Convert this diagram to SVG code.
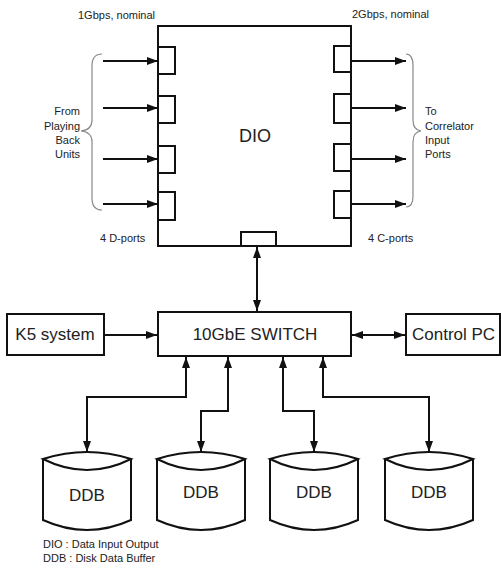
<svg xmlns="http://www.w3.org/2000/svg" width="501" height="568" viewBox="0 0 501 568">
<style>
  .box{fill:#fff;stroke:#111;stroke-width:2}
  .port{fill:#fff;stroke:#111;stroke-width:2}
  .line{fill:none;stroke:#111;stroke-width:2}
  .brace{fill:none;stroke:#888;stroke-width:1.2}
  text{font-family:"Liberation Sans",Arial,sans-serif;fill:#222}
  .big{font-size:17px;text-anchor:middle}
  .small{font-size:11px}
</style>
<defs>
  <marker id="ah" markerUnits="userSpaceOnUse" markerWidth="11" markerHeight="8" refX="11" refY="4" orient="auto-start-reverse" viewBox="0 0 11 8">
    <path d="M0,0 L11,4 L0,8 Z" fill="#111"/>
  </marker>
</defs>
<rect width="501" height="568" fill="#fff"/>

<g id="dio">
  <rect class="box" x="158" y="26" width="193" height="220"/>
  <rect class="port" x="158" y="47" width="17" height="27"/>
  <rect class="port" x="158" y="96" width="17" height="27"/>
  <rect class="port" x="158" y="146" width="17" height="27"/>
  <rect class="port" x="158" y="192" width="17" height="28"/>
  <rect class="port" x="334" y="46" width="17" height="26"/>
  <rect class="port" x="334" y="94" width="17" height="29"/>
  <rect class="port" x="334" y="144" width="17" height="27"/>
  <rect class="port" x="334" y="191" width="17" height="27"/>
  <rect class="port" x="241" y="232" width="35" height="14"/>
  <text class="big" x="255" y="142" style="font-size:18px">DIO</text>
</g>

<g id="labels">
  <text class="small" x="78" y="19">1Gbps, nominal</text>
  <text class="small" x="352" y="18">2Gbps, nominal</text>
  <text class="small" x="100" y="242">4 D-ports</text>
  <text class="small" x="368" y="242">4 C-ports</text>
  <text class="small" text-anchor="end"><tspan x="80" y="115">From</tspan><tspan x="80" y="130">Playing</tspan><tspan x="80" y="144">Back</tspan><tspan x="80" y="158">Units</tspan></text>
  <text class="small"><tspan x="425" y="115">To</tspan><tspan x="425" y="130">Correlator</tspan><tspan x="425" y="144">Input</tspan><tspan x="425" y="158">Ports</tspan></text>
  <path class="brace" d="M102,54 Q92,54 92,66 V120 Q92,130 81,131 Q92,132 92,142 V198 Q92,210 102,210"/>
  <path class="brace" d="M406,54 Q413,54 413,66 V120 Q413,130 421,131 Q413,132 413,142 V196 Q413,207 406,207"/>
</g>

<g id="switch">
  <rect class="box" x="158" y="312" width="193" height="44"/>
  <text class="big" x="255" y="340">10GbE SWITCH</text>
</g>
<g id="k5">
  <rect class="box" x="7" y="314" width="97" height="41"/>
  <text class="big" x="55" y="340">K5 system</text>
</g>
<g id="controlpc">
  <rect class="box" x="406" y="314" width="94" height="41"/>
  <text class="big" x="412" y="340" text-anchor="start" style="text-anchor:start">Control PC</text>
</g>

<g id="ddb1">
  <path class="box" d="M43,459 V520 Q87,540 131,520 V459"/>
  <path class="box" d="M43,459 Q87,445 131,459 Q87,481 43,459 Z"/>
  <text class="big" x="87" y="501">DDB</text>
</g>
<g id="ddb2">
  <path class="box" d="M157,459 V520 Q201,540 245,520 V459"/>
  <path class="box" d="M157,459 Q201,445 245,459 Q201,481 157,459 Z"/>
  <text class="big" x="201" y="498">DDB</text>
</g>
<g id="ddb3">
  <path class="box" d="M270,459 V520 Q314,540 358,520 V459"/>
  <path class="box" d="M270,459 Q314,445 358,459 Q314,481 270,459 Z"/>
  <text class="big" x="314" y="498">DDB</text>
</g>
<g id="ddb4">
  <path class="box" d="M385,459 V520 Q429,540 473,520 V459"/>
  <path class="box" d="M385,459 Q429,445 473,459 Q429,481 385,459 Z"/>
  <text class="big" x="429" y="498">DDB</text>
</g>

<g id="legend">
  <text class="small" x="43" y="548">DIO : Data Input Output</text>
  <text class="small" x="43" y="562">DDB : Disk Data Buffer</text>
</g>

<g id="connectors">
  <line class="line" x1="103" y1="61" x2="158" y2="61" marker-end="url(#ah)"/>
  <line class="line" x1="103" y1="108" x2="158" y2="108" marker-end="url(#ah)"/>
  <line class="line" x1="103" y1="159" x2="158" y2="159" marker-end="url(#ah)"/>
  <line class="line" x1="103" y1="204" x2="158" y2="204" marker-end="url(#ah)"/>
  <line class="line" x1="351" y1="61" x2="406" y2="61" marker-end="url(#ah)"/>
  <line class="line" x1="351" y1="108" x2="406" y2="108" marker-end="url(#ah)"/>
  <line class="line" x1="351" y1="159" x2="406" y2="159" marker-end="url(#ah)"/>
  <line class="line" x1="351" y1="204" x2="406" y2="204" marker-end="url(#ah)"/>
  <line class="line" x1="257" y1="247" x2="257" y2="311" marker-start="url(#ah)" marker-end="url(#ah)"/>
  <line class="line" x1="104" y1="335" x2="157" y2="335" marker-end="url(#ah)"/>
  <line class="line" x1="352" y1="335" x2="405" y2="335" marker-start="url(#ah)" marker-end="url(#ah)"/>
  <path class="line" d="M186,357 V397 H87 V452" marker-start="url(#ah)" marker-end="url(#ah)"/>
  <path class="line" d="M228,357 V411 H201 V452" marker-start="url(#ah)" marker-end="url(#ah)"/>
  <path class="line" d="M283,357 V411 H314 V452" marker-start="url(#ah)" marker-end="url(#ah)"/>
  <path class="line" d="M323,357 V397 H429 V452" marker-start="url(#ah)" marker-end="url(#ah)"/>
</g>
</svg>
